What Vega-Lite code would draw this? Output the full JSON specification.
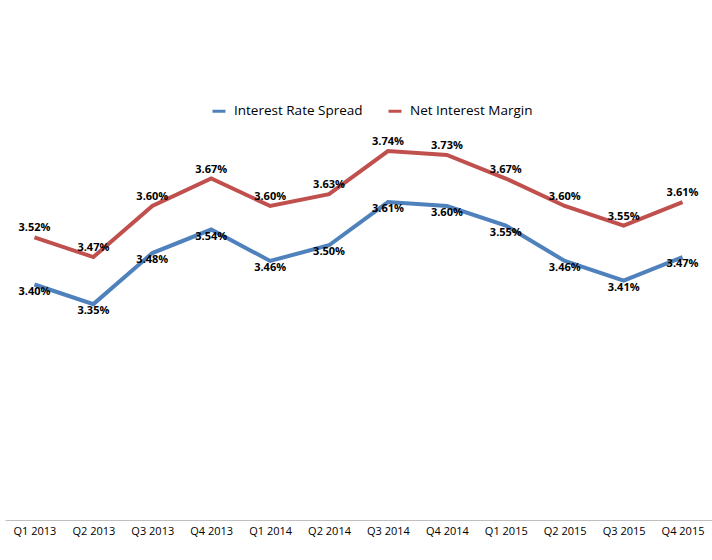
{
  "$schema": "https://vega.github.io/schema/vega-lite/v6.json",
  "autosize": "none",
  "width": 707,
  "height": 471,
  "padding": {"left": 5, "top": 49, "right": 0, "bottom": 40},
  "background": "white",
  "config": {
    "view": {"stroke": null},
    "font": "Open Sans"
  },
  "data": {
    "values": [
      {"quarter": "Q1 2013", "series": "Interest Rate Spread", "value": 0.0340},
      {"quarter": "Q2 2013", "series": "Interest Rate Spread", "value": 0.0335},
      {"quarter": "Q3 2013", "series": "Interest Rate Spread", "value": 0.0348},
      {"quarter": "Q4 2013", "series": "Interest Rate Spread", "value": 0.0354},
      {"quarter": "Q1 2014", "series": "Interest Rate Spread", "value": 0.0346},
      {"quarter": "Q2 2014", "series": "Interest Rate Spread", "value": 0.0350},
      {"quarter": "Q3 2014", "series": "Interest Rate Spread", "value": 0.0361},
      {"quarter": "Q4 2014", "series": "Interest Rate Spread", "value": 0.0360},
      {"quarter": "Q1 2015", "series": "Interest Rate Spread", "value": 0.0355},
      {"quarter": "Q2 2015", "series": "Interest Rate Spread", "value": 0.0346},
      {"quarter": "Q3 2015", "series": "Interest Rate Spread", "value": 0.0341},
      {"quarter": "Q4 2015", "series": "Interest Rate Spread", "value": 0.0347},
      {"quarter": "Q1 2013", "series": "Net Interest Margin", "value": 0.0352},
      {"quarter": "Q2 2013", "series": "Net Interest Margin", "value": 0.0347},
      {"quarter": "Q3 2013", "series": "Net Interest Margin", "value": 0.0360},
      {"quarter": "Q4 2013", "series": "Net Interest Margin", "value": 0.0367},
      {"quarter": "Q1 2014", "series": "Net Interest Margin", "value": 0.0360},
      {"quarter": "Q2 2014", "series": "Net Interest Margin", "value": 0.0363},
      {"quarter": "Q3 2014", "series": "Net Interest Margin", "value": 0.0374},
      {"quarter": "Q4 2014", "series": "Net Interest Margin", "value": 0.0373},
      {"quarter": "Q1 2015", "series": "Net Interest Margin", "value": 0.0367},
      {"quarter": "Q2 2015", "series": "Net Interest Margin", "value": 0.0360},
      {"quarter": "Q3 2015", "series": "Net Interest Margin", "value": 0.0355},
      {"quarter": "Q4 2015", "series": "Net Interest Margin", "value": 0.0361}
    ]
  },
  "encoding": {
    "x": {
      "field": "quarter",
      "type": "ordinal",
      "sort": null,
      "scale": {"type": "point", "padding": 0.5},
      "axis": {
        "title": null,
        "labelAngle": 0,
        "ticks": false,
        "domainColor": "#bfbfbf",
        "domainWidth": 1,
        "labelFontSize": 11,
        "labelColor": "#000000",
        "labelPadding": 5,
        "grid": false
      }
    },
    "y": {
      "field": "value",
      "type": "quantitative",
      "scale": {"domain": [0.028, 0.040], "zero": false, "nice": false},
      "axis": null
    }
  },
  "layer": [
    {
      "mark": {"type": "line", "strokeWidth": 4, "strokeJoin": "miter", "strokeCap": "butt"},
      "encoding": {
        "color": {
          "field": "series",
          "type": "nominal",
          "scale": {"domain": ["Interest Rate Spread", "Net Interest Margin"], "range": ["#4f81bd", "#c0504d"]},
          "legend": {
            "title": null,
            "orient": "none",
            "direction": "horizontal",
            "legendX": 206,
            "legendY": 54,
            "symbolType": "stroke",
            "symbolSize": 169,
            "symbolStrokeWidth": 3,
            "labelFontSize": 13.5,
            "labelColor": "#000000",
            "columnPadding": 19,
            "labelOffset": 7
          }
        }
      }
    },
    {
      "transform": [{"filter": "datum.series === 'Net Interest Margin'"}],
      "mark": {"type": "text", "dy": -9, "fontSize": 11, "fontWeight": "bold", "color": "#000000"},
      "encoding": {"text": {"field": "value", "type": "quantitative", "format": ".2%"}}
    },
    {
      "transform": [{"filter": "datum.series === 'Interest Rate Spread'"}],
      "mark": {"type": "text", "dy": 7, "fontSize": 11, "fontWeight": "bold", "color": "#000000"},
      "encoding": {"text": {"field": "value", "type": "quantitative", "format": ".2%"}}
    }
  ]
}
